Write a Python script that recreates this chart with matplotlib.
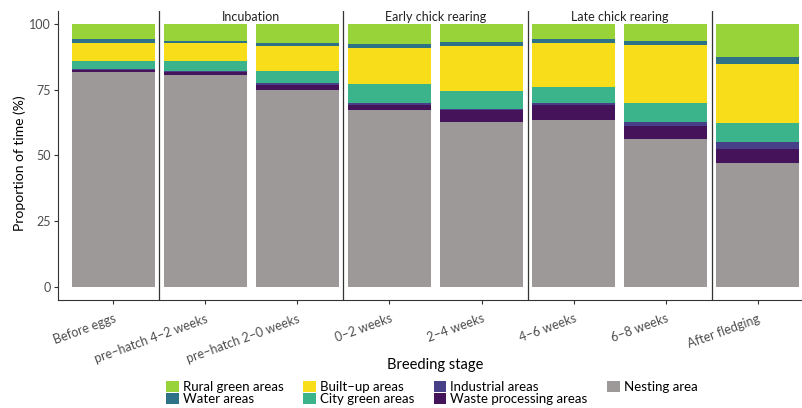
import numpy as np
import matplotlib.pyplot as plt
from matplotlib.patches import Patch

plt.rcParams['font.family'] = ['Lato', 'DejaVu Sans']

# breeding stages
stages = ['Before eggs', 'pre\u2013hatch 4\u20132 weeks', 'pre\u2013hatch 2\u20130 weeks',
          '0\u20132 weeks', '2\u20134 weeks', '4\u20136 weeks', '6\u20138 weeks', 'After fledging']

# proportion of time (%) per habitat, bottom to top
nesting = [81.7, 80.6, 74.9, 67.3, 62.7, 63.5, 56.3, 47.1]
waste = [0.8, 1.2, 1.9, 1.9, 4.7, 5.7, 4.9, 5.4]
industrial = [0.3, 0.3, 0.8, 0.8, 0.3, 0.8, 1.5, 2.6]
city_green = [3.0, 3.8, 4.5, 7.2, 6.8, 6.0, 7.3, 7.3]
built_up = [6.9, 6.9, 9.5, 13.7, 17.1, 16.8, 22.0, 22.4]
water = [1.5, 0.7, 1.2, 1.5, 1.6, 1.5, 1.5, 2.7]
rural_green = [5.8, 6.5, 7.2, 7.6, 6.8, 5.7, 6.5, 12.5]

groups = ['Incubation', 'Early chick rearing', 'Late chick rearing']
group_pos = [1.5, 3.5, 5.5]

layers = [
    ('Nesting area', nesting, '#9d9998'),
    ('Waste processing areas', waste, '#45135a'),
    ('Industrial areas', industrial, '#473f87'),
    ('City green areas', city_green, '#3bb38b'),
    ('Built\u2013up areas', built_up, '#f7dd1a'),
    ('Water areas', water, '#2e7287'),
    ('Rural green areas', rural_green, '#99d33a'),
]

fig = plt.figure(figsize=(8.03, 4.08), dpi=100)
ax = fig.add_axes([58 / 803, 108 / 408, 755 / 803, 289 / 408])

x = np.arange(len(stages))
bottom = np.zeros(len(stages))
for name, vals, col in layers:
    vals = np.array(vals)
    ax.bar(x, vals, bottom=bottom, width=0.9, color=col, linewidth=0)
    bottom += vals

# stage group separators
for xv in [0.5, 2.5, 4.5, 6.5]:
    ax.axvline(xv, color='#333333', lw=0.9)

for g, p in zip(groups, group_pos):
    ax.text(p, 102.9, g, ha='center', va='center', fontsize=9, color='#222222')

ax.set_xlim(-0.6, 7.6)
ax.set_ylim(-5, 105)
ax.set_yticks([0, 25, 50, 75, 100])
ax.set_xticks(x)
ax.set_xticklabels(stages, rotation=20, ha='right', rotation_mode='anchor',
                   fontsize=9, color='#4d4d4d')
ax.tick_params(axis='y', labelsize=9, labelcolor='#4d4d4d', color='#333333', length=3, pad=2)
ax.tick_params(axis='x', color='#333333', length=3, pad=6)
for s in ['top', 'right']:
    ax.spines[s].set_visible(False)
for s in ['left', 'bottom']:
    ax.spines[s].set_color('#333333')
    ax.spines[s].set_linewidth(0.8)

fig.text(20 / 803, 1 - 163 / 408, 'Proportion of time (%)', rotation=90,
         ha='center', va='center', fontsize=10)
fig.text(435 / 803, 1 - 365 / 408, 'Breeding stage', ha='center', va='center', fontsize=10.5)

order = [6, 5, 4, 3, 2, 1, 0]
handles = [Patch(facecolor=layers[i][2], label=layers[i][0]) for i in order]
fig.legend(handles=handles, ncol=4, loc='center', bbox_to_anchor=(432 / 803, 1 - 393 / 408),
           frameon=False, fontsize=9.5, labelspacing=0.0, handlelength=0.95, handleheight=0.95,
           handletextpad=0.3, columnspacing=1.5, borderpad=0)

fig.savefig('out.png', dpi=100)
